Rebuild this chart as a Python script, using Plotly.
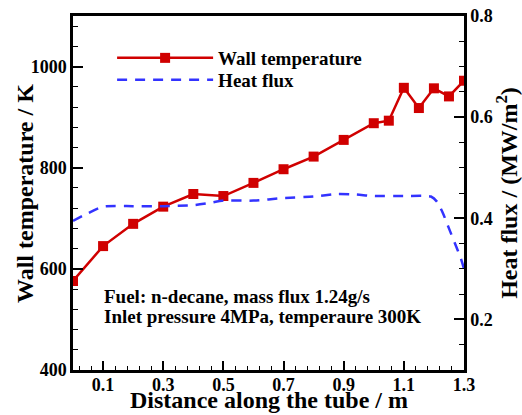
import plotly.graph_objects as go

# Wall temperature measured along the tube
x_wall = [0.0, 0.1, 0.2, 0.3, 0.4, 0.5, 0.6, 0.7, 0.8, 0.9, 1.0, 1.05, 1.1, 1.15, 1.2, 1.25, 1.3]
t_wall = [576, 645, 689, 723, 748, 744, 770, 797, 822, 855, 888, 893, 958, 918, 957, 941, 972]

# Heat flux profile along the tube (MW/m^2)
x_flux = [0.0, 0.05, 0.1, 0.2, 0.3, 0.4, 0.45, 0.5, 0.6, 0.7, 0.8, 0.88, 0.94, 1.0, 1.1, 1.19,
          1.21, 1.23, 1.25, 1.27, 1.29, 1.3]
q_flux = [0.395, 0.41, 0.423, 0.424, 0.424, 0.426, 0.43, 0.435, 0.435, 0.44, 0.443, 0.448, 0.447,
          0.444, 0.444, 0.443, 0.433, 0.41, 0.38, 0.35, 0.32, 0.30]

# Operating conditions note, one entry per line
notes = ["Fuel: n-decane, mass flux 1.24g/s", "Inlet pressure 4MPa, temperaure 300K"]
note_y = [545, 506]

FONT = "Liberation Serif"
RED = "#d00000"
BLUE = "#3333ff"

fig = go.Figure()
fig.add_trace(go.Scatter(
    x=x_wall, y=t_wall, name="Wall temperature", mode="lines+markers",
    line=dict(color=RED, width=2.5),
    marker=dict(symbol="square", size=10, color=RED),
    yaxis="y", legend="legend",
))
fig.add_trace(go.Scatter(
    x=x_flux, y=q_flux, name="Heat flux", mode="lines",
    line=dict(color=BLUE, width=2.5, dash="10px,8px", shape="spline", smoothing=0.6),
    yaxis="y2", legend="legend2",
))

notefont = dict(family=FONT, size=19, color="black", weight="bold")
for txt, yv in zip(notes, note_y):
    fig.add_annotation(x=0.097, y=yv, xref="x", yref="y", xanchor="left", yanchor="middle",
                       text=txt, showarrow=False, font=notefont)

tickfont = dict(family=FONT, size=18, color="black", weight="bold")
titlefont = dict(family=FONT, size=24, color="black", weight="bold")
legendfont = dict(family=FONT, size=19, color="black", weight="bold")

# axis titles for x and left y
fig.add_annotation(x=0.5, y=-0.086, xref="paper", yref="paper", xanchor="center",
                   yanchor="middle", text="Distance along the tube / m", showarrow=False,
                   font=titlefont)
fig.add_annotation(x=-0.1228, y=0.5, xref="paper", yref="paper", xanchor="center",
                   yanchor="middle", text="Wall temperature / K", textangle=-90,
                   showarrow=False, font=titlefont)

fig.update_layout(
    width=522, height=415,
    margin=dict(l=73, r=58, t=16, b=45),
    paper_bgcolor="white", plot_bgcolor="white",
    showlegend=True,
    legend=dict(x=0.1, y=0.935, xanchor="left", yanchor="top", font=legendfont,
                bgcolor="rgba(0,0,0,0)", itemwidth=96),
    legend2=dict(x=0.1, y=0.8735, xanchor="left", yanchor="top", font=legendfont,
                 bgcolor="rgba(0,0,0,0)", itemwidth=96),
    xaxis=dict(
        range=[0, 1.3], tick0=0.1, dtick=0.2, ticks="inside", ticklen=9, tickwidth=1.5,
        tickcolor="black", showgrid=False, zeroline=False, automargin=False,
        showline=True, linecolor="black", linewidth=2.5, mirror=True,
        tickfont=tickfont, ticklabelstandoff=-3,
        minor=dict(tick0=0.1, dtick=0.04, ticks="inside", ticklen=4, tickwidth=1.2,
                   tickcolor="black", showgrid=False),
    ),
    yaxis=dict(
        range=[400, 1100], tick0=400, dtick=200, ticks="inside", ticklen=10, tickwidth=1.5,
        tickcolor="black", showgrid=False, zeroline=False, automargin=False,
        showline=True, linecolor="black", linewidth=2.5,
        tickfont=tickfont,
        minor=dict(dtick=40, ticks="inside", ticklen=5, tickwidth=1.2,
                   tickcolor="black", showgrid=False),
    ),
    yaxis2=dict(
        range=[0.1, 0.8], tick0=0.2, dtick=0.2, ticks="inside", ticklen=10, tickwidth=1.5,
        tickcolor="black", showgrid=False, zeroline=False, automargin=False,
        showline=True, linecolor="black", linewidth=2.5,
        overlaying="y", side="right", tickformat=".1f",
        tickfont=tickfont,
        minor=dict(tick0=0.1, dtick=0.05, ticks="inside", ticklen=5, tickwidth=1.2,
                   tickcolor="black", showgrid=False),
        title=dict(text="Heat flux / (MW/m<sup>2</sup>)", font=titlefont, standoff=6),
    ),
)

fig.write_html("out.html")
